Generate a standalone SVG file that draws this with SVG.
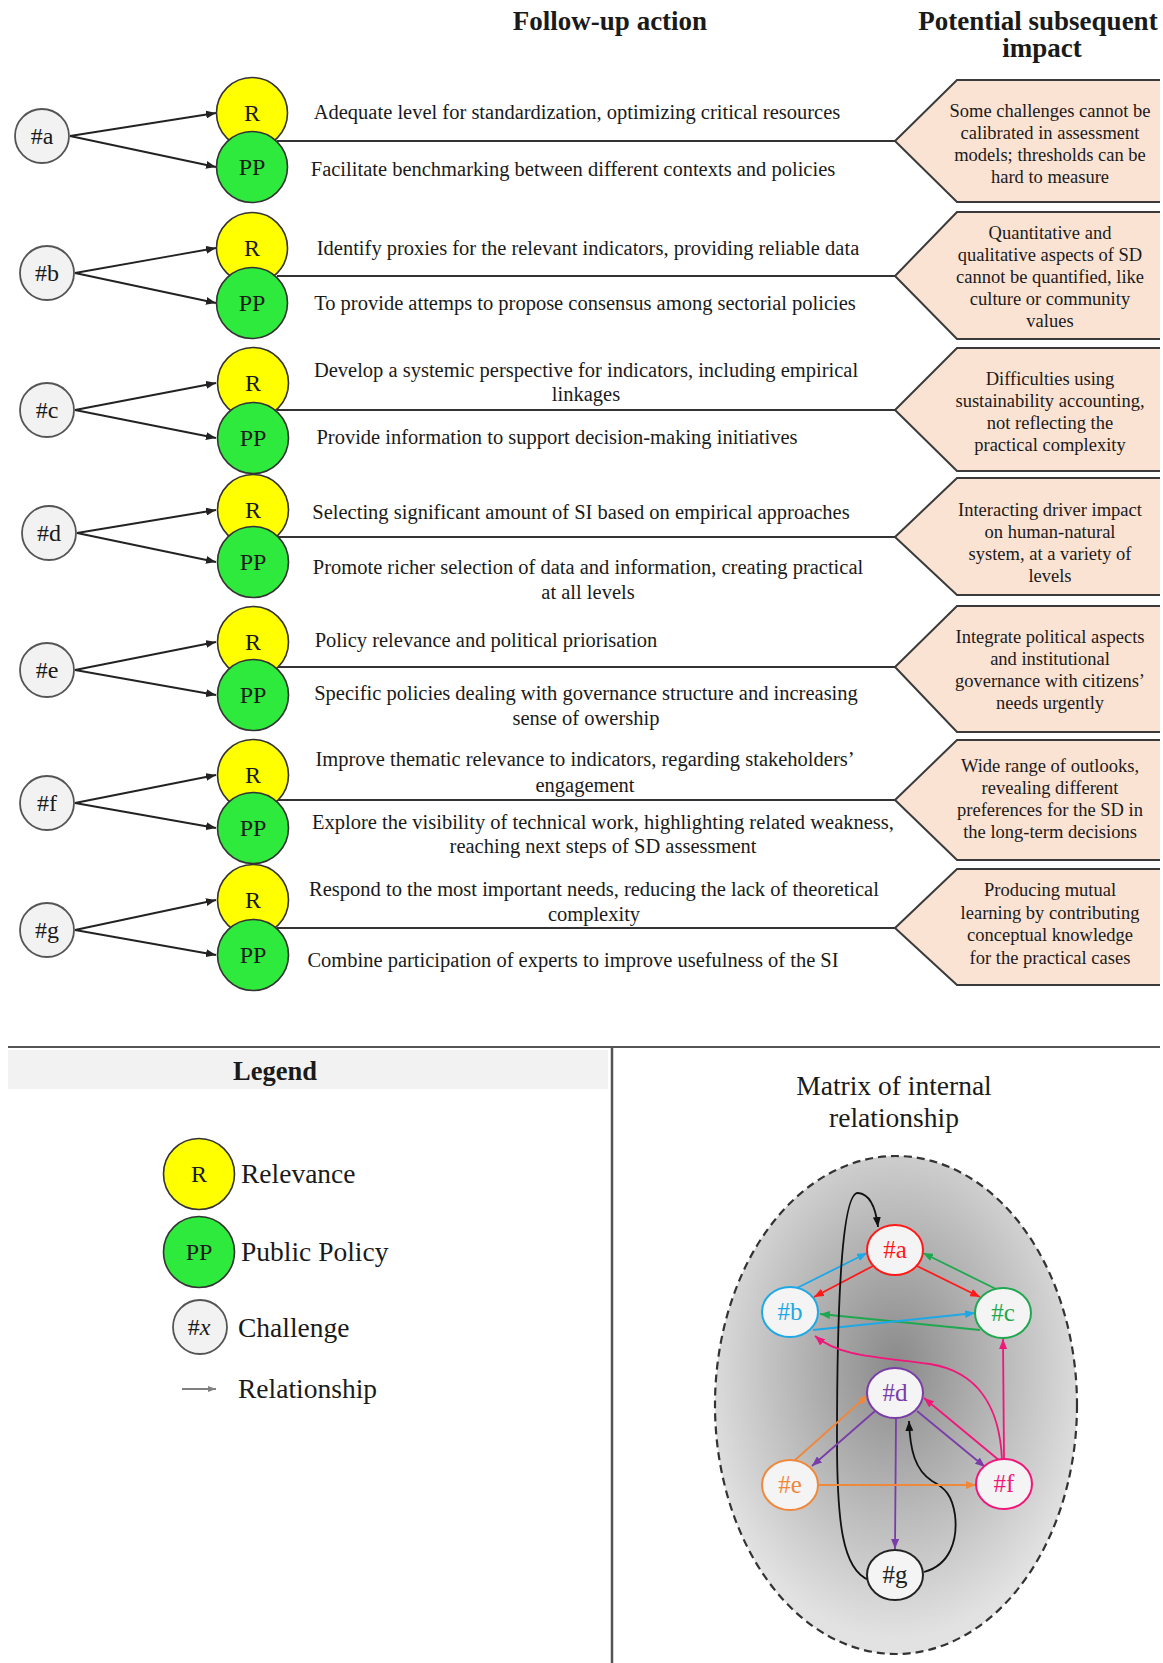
<svg xmlns="http://www.w3.org/2000/svg" width="1163" height="1663" viewBox="0 0 1163 1663">
<style>
text{font-family:"Liberation Serif","Times New Roman",serif;fill:#1a1a1a}
.hdr{font-size:27px;font-weight:bold;text-anchor:middle}
.act{font-size:20.5px;text-anchor:middle}
.imp{font-size:18.5px;text-anchor:middle}
.lbl{font-size:24px;text-anchor:middle}
.ch{fill:#f2f2f2;stroke:#555;stroke-width:1.8}
.r{fill:#ffff00;stroke:#333;stroke-width:1.6}
.pp{fill:#2eea3c;stroke:#333;stroke-width:1.6}
.pent{fill:#fbe3d4;stroke:#3a3a3a;stroke-width:2}
.hl{stroke:#333;stroke-width:2;fill:none}
.ar{stroke:#222;stroke-width:1.8;fill:none;marker-end:url(#mk)}
.leg{font-size:27.5px}
.gn{fill:#f4f4f4;stroke-width:2}
.gt{font-size:25px;text-anchor:middle}
.e{fill:none;stroke-width:1.8}
</style>
<defs>
<marker id="mk" markerUnits="userSpaceOnUse" markerWidth="10" markerHeight="8" refX="10" refY="4" orient="auto"><path d="M0,0 L10,4 L0,8 z" fill="#222"/></marker>
<marker id="mgray" markerUnits="userSpaceOnUse" markerWidth="8" markerHeight="6" refX="8" refY="3" orient="auto"><path d="M0,0 L8,3 L0,6 z" fill="#808080"/></marker>
<marker id="mred" markerUnits="userSpaceOnUse" markerWidth="10" markerHeight="8" refX="10" refY="4" orient="auto"><path d="M0,0 L10,4 L0,8 z" fill="#ff1a1a"/></marker>
<marker id="mblue" markerUnits="userSpaceOnUse" markerWidth="10" markerHeight="8" refX="10" refY="4" orient="auto"><path d="M0,0 L10,4 L0,8 z" fill="#1ea8e6"/></marker>
<marker id="mgreen" markerUnits="userSpaceOnUse" markerWidth="10" markerHeight="8" refX="10" refY="4" orient="auto"><path d="M0,0 L10,4 L0,8 z" fill="#1fa84f"/></marker>
<marker id="mpurple" markerUnits="userSpaceOnUse" markerWidth="10" markerHeight="8" refX="10" refY="4" orient="auto"><path d="M0,0 L10,4 L0,8 z" fill="#7a3da8"/></marker>
<marker id="morange" markerUnits="userSpaceOnUse" markerWidth="10" markerHeight="8" refX="10" refY="4" orient="auto"><path d="M0,0 L10,4 L0,8 z" fill="#f0883c"/></marker>
<marker id="mpink" markerUnits="userSpaceOnUse" markerWidth="10" markerHeight="8" refX="10" refY="4" orient="auto"><path d="M0,0 L10,4 L0,8 z" fill="#f0177a"/></marker>
<marker id="mblack" markerUnits="userSpaceOnUse" markerWidth="10" markerHeight="8" refX="10" refY="4" orient="auto"><path d="M0,0 L10,4 L0,8 z" fill="#111"/></marker>
<radialGradient id="bg" cx="0.5" cy="0.42" r="0.55">
<stop offset="0" stop-color="#8a8a8a"/>
<stop offset="1" stop-color="#e2e2e2"/>
</radialGradient>
</defs>
<rect width="1163" height="1663" fill="#ffffff"/>

<g id="headers">
<text class="hdr" x="610" y="30">Follow-up action</text>
<text class="hdr" x="1038" y="30">Potential subsequent</text>
<text class="hdr" x="1042" y="57">impact</text>
</g>

<g id="impacts">
<g id="impact-a">
<path class="pent" d="M1160,80 L957,80 L895,141 L957,202 L1160,202"/>
<text class="imp" x="1050" y="117">Some challenges cannot be</text>
<text class="imp" x="1050" y="139">calibrated in assessment</text>
<text class="imp" x="1050" y="161">models; thresholds can be</text>
<text class="imp" x="1050" y="183">hard to measure</text>
</g>
<g id="impact-b">
<path class="pent" d="M1160,212 L957,212 L895,276 L957,339 L1160,339"/>
<text class="imp" x="1050" y="239">Quantitative and</text>
<text class="imp" x="1050" y="261">qualitative aspects of SD</text>
<text class="imp" x="1050" y="283">cannot be quantified, like</text>
<text class="imp" x="1050" y="305">culture or community</text>
<text class="imp" x="1050" y="327">values</text>
</g>
<g id="impact-c">
<path class="pent" d="M1160,348 L957,348 L895,410 L957,471 L1160,471"/>
<text class="imp" x="1050" y="385">Difficulties using</text>
<text class="imp" x="1050" y="407">sustainability accounting,</text>
<text class="imp" x="1050" y="429">not reflecting the</text>
<text class="imp" x="1050" y="451">practical complexity</text>
</g>
<g id="impact-d">
<path class="pent" d="M1160,478 L957,478 L895,537 L957,595 L1160,595"/>
<text class="imp" x="1050" y="516">Interacting driver impact</text>
<text class="imp" x="1050" y="538">on human-natural</text>
<text class="imp" x="1050" y="560">system, at a variety of</text>
<text class="imp" x="1050" y="582">levels</text>
</g>
<g id="impact-e">
<path class="pent" d="M1160,606 L957,606 L895,667 L957,732 L1160,732"/>
<text class="imp" x="1050" y="643">Integrate political aspects</text>
<text class="imp" x="1050" y="665">and institutional</text>
<text class="imp" x="1050" y="687">governance with citizens’</text>
<text class="imp" x="1050" y="709">needs urgently</text>
</g>
<g id="impact-f">
<path class="pent" d="M1160,740 L957,740 L895,800 L957,860 L1160,860"/>
<text class="imp" x="1050" y="772">Wide range of outlooks,</text>
<text class="imp" x="1050" y="794">revealing different</text>
<text class="imp" x="1050" y="816">preferences for the SD in</text>
<text class="imp" x="1050" y="838">the long-term decisions</text>
</g>
<g id="impact-g">
<path class="pent" d="M1160,869 L957,869 L895,928 L957,985 L1160,985"/>
<text class="imp" x="1050" y="896">Producing mutual</text>
<text class="imp" x="1050" y="919">learning by contributing</text>
<text class="imp" x="1050" y="941">conceptual knowledge</text>
<text class="imp" x="1050" y="964">for the practical cases</text>
</g>
</g>

<g id="connectors">
<path class="hl" d="M277,141 H895"/>
<path class="hl" d="M277,276 H895"/>
<path class="hl" d="M277,410 H895"/>
<path class="hl" d="M277,537 H895"/>
<path class="hl" d="M277,667 H895"/>
<path class="hl" d="M277,800 H895"/>
<path class="hl" d="M277,928 H895"/>
<path class="ar" d="M70,136 L216,113"/>
<path class="ar" d="M70,136 L216,167"/>
<path class="ar" d="M75,273 L216,248"/>
<path class="ar" d="M75,273 L216,303"/>
<path class="ar" d="M75,410 L216,383"/>
<path class="ar" d="M75,410 L216,438"/>
<path class="ar" d="M77,533 L216,510"/>
<path class="ar" d="M77,533 L216,562"/>
<path class="ar" d="M75,670 L216,642"/>
<path class="ar" d="M75,670 L216,695"/>
<path class="ar" d="M75,803 L216,775"/>
<path class="ar" d="M75,803 L216,828"/>
<path class="ar" d="M75,930 L216,900"/>
<path class="ar" d="M75,930 L216,955"/>
</g>

<g id="challenges">
<g id="ch-a"><circle class="ch" cx="42" cy="136" r="27"/><text class="lbl" x="42" y="144">#a</text></g>
<g id="ch-b"><circle class="ch" cx="47" cy="273" r="27"/><text class="lbl" x="47" y="281">#b</text></g>
<g id="ch-c"><circle class="ch" cx="47" cy="410" r="27"/><text class="lbl" x="47" y="418">#c</text></g>
<g id="ch-d"><circle class="ch" cx="49" cy="533" r="27"/><text class="lbl" x="49" y="541">#d</text></g>
<g id="ch-e"><circle class="ch" cx="47" cy="670" r="27"/><text class="lbl" x="47" y="678">#e</text></g>
<g id="ch-f"><circle class="ch" cx="47" cy="803" r="27"/><text class="lbl" x="47" y="811">#f</text></g>
<g id="ch-g"><circle class="ch" cx="47" cy="930" r="27"/><text class="lbl" x="47" y="938">#g</text></g>
</g>

<g id="actions">
<g id="row-a">
<circle class="r" cx="252" cy="113" r="35.5"/><text class="lbl" x="252" y="121">R</text>
<circle class="pp" cx="252" cy="167" r="35.5"/><text class="lbl" x="252" y="175">PP</text>
<text class="act" x="577" y="119">Adequate level for standardization, optimizing critical resources</text>
<text class="act" x="573" y="176">Facilitate benchmarking between different contexts and policies</text>
</g>
<g id="row-b">
<circle class="r" cx="252" cy="248" r="35.5"/><text class="lbl" x="252" y="256">R</text>
<circle class="pp" cx="252" cy="303" r="35.5"/><text class="lbl" x="252" y="311">PP</text>
<text class="act" x="588" y="255">Identify  proxies for the relevant indicators, providing reliable data</text>
<text class="act" x="585" y="310">To provide attemps to propose consensus among sectorial policies</text>
</g>
<g id="row-c">
<circle class="r" cx="253" cy="383" r="35.5"/><text class="lbl" x="253" y="391">R</text>
<circle class="pp" cx="253" cy="438" r="35.5"/><text class="lbl" x="253" y="446">PP</text>
<text class="act" x="586" y="377">Develop a systemic perspective for indicators, including empirical</text>
<text class="act" x="586" y="401">linkages</text>
<text class="act" x="557" y="444">Provide information to support decision-making initiatives</text>
</g>
<g id="row-d">
<circle class="r" cx="253" cy="510" r="35.5"/><text class="lbl" x="253" y="518">R</text>
<circle class="pp" cx="253" cy="562" r="35.5"/><text class="lbl" x="253" y="570">PP</text>
<text class="act" x="581" y="519">Selecting significant amount of SI based on empirical approaches</text>
<text class="act" x="588" y="574">Promote richer selection of data and information, creating practical</text>
<text class="act" x="588" y="599">at all levels</text>
</g>
<g id="row-e">
<circle class="r" cx="253" cy="642" r="35.5"/><text class="lbl" x="253" y="650">R</text>
<circle class="pp" cx="253" cy="695" r="35.5"/><text class="lbl" x="253" y="703">PP</text>
<text class="act" x="486" y="647">Policy relevance and political priorisation</text>
<text class="act" x="586" y="700">Specific policies dealing with governance structure and increasing</text>
<text class="act" x="586" y="725">sense of owership</text>
</g>
<g id="row-f">
<circle class="r" cx="253" cy="775" r="35.5"/><text class="lbl" x="253" y="783">R</text>
<circle class="pp" cx="253" cy="828" r="35.5"/><text class="lbl" x="253" y="836">PP</text>
<text class="act" x="585" y="766">Improve thematic relevance to indicators, regarding stakeholders’</text>
<text class="act" x="585" y="792">engagement</text>
<text class="act" x="603" y="829">Explore the visibility of technical work, highlighting related weakness,</text>
<text class="act" x="603" y="853">reaching next steps of SD assessment</text>
</g>
<g id="row-g">
<circle class="r" cx="253" cy="900" r="35.5"/><text class="lbl" x="253" y="908">R</text>
<circle class="pp" cx="253" cy="955" r="35.5"/><text class="lbl" x="253" y="963">PP</text>
<text class="act" x="594" y="896">Respond to the most important needs, reducing the lack of theoretical</text>
<text class="act" x="594" y="921">complexity</text>
<text class="act" x="573" y="967">Combine participation of experts to improve usefulness of the SI</text>
</g>
</g>

<g id="frame">
<path d="M8,1047 H1160" stroke="#555" stroke-width="2"/>
<path d="M612,1047 V1663" stroke="#555" stroke-width="2.5"/>
</g>

<g id="legend">
<rect x="8" y="1050" width="600" height="39" fill="#f2f2f2"/>
<text class="hdr" x="275" y="1080" style="font-size:26.5px">Legend</text>
<circle class="r" cx="199" cy="1174" r="35.5"/><text class="lbl" x="199" y="1182">R</text>
<text class="leg" x="241" y="1183">Relevance</text>
<circle class="pp" cx="199" cy="1252" r="35.5"/><text class="lbl" x="199" y="1260">PP</text>
<text class="leg" x="241" y="1261">Public Policy</text>
<circle class="ch" cx="200" cy="1327" r="27"/><text class="lbl" x="199" y="1335">#<tspan font-style="italic">x</tspan></text>
<text class="leg" x="238" y="1337">Challenge</text>
<path d="M182,1389 H216" stroke="#808080" stroke-width="1.8" marker-end="url(#mgray)"/>
<text class="leg" x="238" y="1398">Relationship</text>
</g>

<g id="matrix">
<text class="leg" x="894" y="1095" text-anchor="middle">Matrix of internal</text>
<text class="leg" x="894" y="1127" text-anchor="middle">relationship</text>
<ellipse cx="896" cy="1405" rx="181" ry="249" fill="url(#bg)" stroke="#333" stroke-width="2.2" stroke-dasharray="8,5"/>
</g>

<g id="matrix-connectors">
<path class="e" stroke="#ff1a1a" marker-end="url(#mred)" d="M873,1266 L814,1297"/>
<path class="e" stroke="#ff1a1a" marker-end="url(#mred)" d="M917,1266 L980,1297"/>
<path class="e" stroke="#1ea8e6" marker-end="url(#mblue)" d="M797,1288 L867,1253"/>
<path class="e" stroke="#1fa84f" marker-end="url(#mgreen)" d="M996,1289 L923,1253"/>
<path class="e" stroke="#1fa84f" marker-end="url(#mgreen)" d="M980,1330 L820,1314"/>
<path class="e" stroke="#1ea8e6" marker-end="url(#mblue)" d="M813,1330 L975,1313"/>
<path class="e" stroke="#111" marker-end="url(#mblack)" d="M869,1580 C842,1570 837,1520 837,1440 C837,1330 840,1192 858,1193 C871,1194 876,1210 878,1227"/>
<path class="e" stroke="#111" marker-end="url(#mblack)" d="M924,1572 C950,1565 958,1540 955,1515 C952,1495 945,1488 932,1481 C915,1470 910,1450 909,1421"/>
<path class="e" stroke="#f0177a" marker-end="url(#mpink)" d="M1002,1460 C1000,1410 980,1372 930,1364 C880,1357 840,1357 815,1336"/>
<path class="e" stroke="#f0177a" marker-end="url(#mpink)" d="M1004,1459 L1003,1339"/>
<path class="e" stroke="#f0177a" marker-end="url(#mpink)" d="M1000,1461 L924,1398"/>
<path class="e" stroke="#7a3da8" marker-end="url(#mpurple)" d="M875,1411 L812,1466"/>
<path class="e" stroke="#7a3da8" marker-end="url(#mpurple)" d="M917,1411 L985,1467"/>
<path class="e" stroke="#7a3da8" marker-end="url(#mpurple)" d="M896,1418 L895,1549"/>
<path class="e" stroke="#f0883c" marker-end="url(#morange)" d="M794,1461 L868,1395"/>
<path class="e" stroke="#f0883c" marker-end="url(#morange)" d="M819,1485 L976,1485"/>
</g>

<g id="matrix-nodes">
<g id="m-a"><ellipse class="gn" cx="895" cy="1250" rx="28" ry="25" stroke="#ff1a1a"/><text class="gt" x="895" y="1258" style="fill:#ff1a1a">#a</text></g>
<g id="m-b"><ellipse class="gn" cx="790" cy="1312" rx="28" ry="25" stroke="#1ea8e6"/><text class="gt" x="790" y="1320" style="fill:#1ea8e6">#b</text></g>
<g id="m-c"><ellipse class="gn" cx="1003" cy="1313" rx="28" ry="25" stroke="#1fa84f"/><text class="gt" x="1003" y="1321" style="fill:#1fa84f">#c</text></g>
<g id="m-d"><ellipse class="gn" cx="895" cy="1393" rx="28" ry="25" stroke="#7a3da8"/><text class="gt" x="895" y="1401" style="fill:#7a3da8">#d</text></g>
<g id="m-e"><ellipse class="gn" cx="790" cy="1485" rx="28" ry="25" stroke="#f0883c"/><text class="gt" x="790" y="1493" style="fill:#f0883c">#e</text></g>
<g id="m-f"><ellipse class="gn" cx="1004" cy="1484" rx="28" ry="25" stroke="#f0177a"/><text class="gt" x="1004" y="1492" style="fill:#f0177a">#f</text></g>
<g id="m-g"><ellipse class="gn" cx="895" cy="1575" rx="28" ry="25" stroke="#222"/><text class="gt" x="895" y="1583" style="fill:#222">#g</text></g>
</g>
</svg>
